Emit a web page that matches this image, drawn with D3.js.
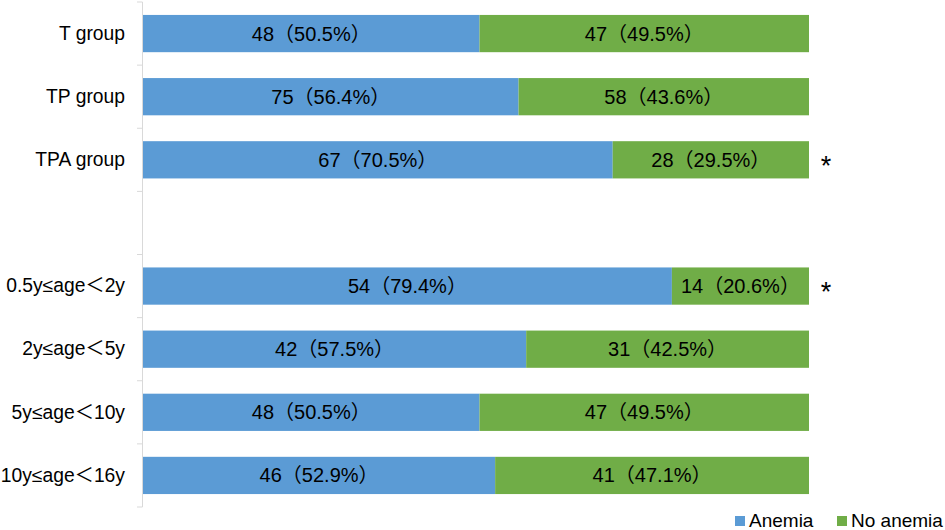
<!DOCTYPE html>
<html>
<head>
<meta charset="utf-8">
<script src="https://cdn.jsdelivr.net/npm/d3@7"></script>
<style>
  body { margin: 0; background: #fff; }
  text { font-family: "Liberation Sans", Arial, "Noto Sans CJK SC", sans-serif; }
</style>
</head>
<body>
<div id="chart"></div>
<script>
// categories top to bottom, "" is the empty spacer row
const categories = ["T group", "TP group", "TPA group", "", "0.5y≤age＜2y", "2y≤age＜5y", "5y≤age＜10y", "10y≤age＜16y"];
const anemia   = [48, 75, 67, null, 54, 42, 48, 46];
const noAnemia = [47, 58, 28, null, 14, 31, 47, 41];
const anemiaPct   = ["50.5%", "56.4%", "70.5%", null, "79.4%", "57.5%", "50.5%", "52.9%"];
const noAnemiaPct = ["49.5%", "43.6%", "29.5%", null, "20.6%", "42.5%", "49.5%", "47.1%"];
const marked = ["TPA group", "0.5y≤age＜2y"];
const seriesNames = ["Anemia", "No anemia"];
const colors = ["#5b9bd5", "#70ad47"];

const svgWidth = 945;
const svgHeight = 530;
const margin = { top: 2, right: 136, bottom: 23, left: 143 };
const width = svgWidth - margin.left - margin.right;
const height = svgHeight - margin.top - margin.bottom;

const svg = d3.select("#chart")
    .append("svg")
    .attr("width", svgWidth)
    .attr("height", svgHeight);

const g = svg.append("g")
    .attr("transform", `translate(${margin.left},${margin.top})`);

const rows = categories.map((c, i) => ({
    cat: c,
    a: anemia[i], n: noAnemia[i],
    aLabel: anemia[i] == null ? null : `${anemia[i]}（${anemiaPct[i]}）`,
    nLabel: noAnemia[i] == null ? null : `${noAnemia[i]}（${noAnemiaPct[i]}）`
}));
const data = rows.filter(d => d.a != null).map(d => ({ ...d, total: d.a + d.n }));

const x = d3.scaleLinear().domain([0, 1]).range([0, width]);
const y = d3.scaleBand()
    .domain(categories.map((c, i) => c || "gap" + i))
    .range([0, height])
    .paddingInner(0.41)
    .paddingOuter(0.205);
const key = c => c || "gap" + categories.indexOf(c);

// axis line + boundary ticks
const gap = (y.step() - y.bandwidth()) / 2;
const bounds = categories.map(c => y(key(c)) - gap).concat([height]);
g.append("line")
    .attr("x1", -0.5).attr("x2", -0.5)
    .attr("y1", 0).attr("y2", height)
    .attr("stroke", "#d9d9d9");
g.selectAll(".btick")
    .data(bounds)
    .enter()
    .append("line")
    .attr("x1", -6).attr("x2", -0.5)
    .attr("y1", d => d).attr("y2", d => d)
    .attr("stroke", "#d9d9d9");

// category labels
const yAxis = g.append("g")
    .call(d3.axisLeft(y).tickSize(0).tickPadding(18).tickFormat(d => d.startsWith("gap") ? "" : d));
yAxis.select(".domain").remove();
yAxis.selectAll("text")
    .attr("font-size", 19.3)
    .attr("fill", "#000")
    .style("font-family", "\"Liberation Sans\", Arial, \"Noto Sans CJK SC\", sans-serif");

// stacked bars
const stack = d3.stack().keys(["a", "n"]).value((d, k) => d[k] / d.total);
const layers = stack(data);

layers.forEach((layer, li) => {
    g.selectAll(".bar" + li)
        .data(layer)
        .enter()
        .append("rect")
        .attr("x", d => x(d[0]))
        .attr("y", d => y(d.data.cat))
        .attr("width", d => x(d[1]) - x(d[0]))
        .attr("height", y.bandwidth())
        .attr("fill", colors[li]);

    g.selectAll(".lab" + li)
        .data(layer)
        .enter()
        .append("text")
        .attr("x", d => (x(d[0]) + x(d[1])) / 2)
        .attr("y", d => y(d.data.cat) + y.bandwidth() / 2)
        .attr("dy", "0.35em")
        .attr("text-anchor", "middle")
        .attr("font-size", 20)
        .attr("fill", "#000")
        .text(d => li === 0 ? d.data.aLabel : d.data.nLabel);
});

// significance marks
g.selectAll(".star")
    .data(marked)
    .enter()
    .append("text")
    .attr("x", x(1) + 17)
    .attr("y", d => y(d) + y.bandwidth() / 2)
    .attr("dy", "0.57em")
    .attr("text-anchor", "middle")
    .attr("font-size", 27)
    .attr("fill", "#000")
    .text("*");

// legend
const legend = svg.append("g").attr("transform", "translate(735,527)");
const legendX = [0, 102];
seriesNames.forEach((name, i) => {
    legend.append("rect")
        .attr("x", legendX[i]).attr("y", -11)
        .attr("width", 10).attr("height", 10)
        .attr("fill", colors[i]);
    legend.append("text")
        .attr("x", legendX[i] + 14).attr("y", 0)
        .attr("font-size", 19)
        .attr("fill", "#000")
        .text(name);
});
</script>
</body>
</html>
